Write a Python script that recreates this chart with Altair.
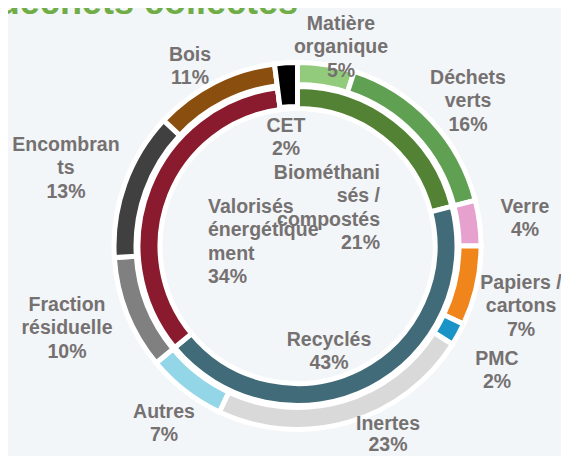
import altair as alt
import pandas as pd

# ---------------- data ----------------
outer_cat = ["Matière organique", "Déchets verts", "Verre", "Papiers / cartons", "PMC",
             "Inertes", "Autres", "Fraction résiduelle", "Encombrants", "Bois", "CET"]
outer_val = [5, 16, 4, 7, 2, 23, 7, 10, 13, 11, 2]
outer_col = ["#92CB7C", "#60A053", "#E6A1CF", "#F0851C", "#1A93C6",
             "#D9D9D9", "#93D6E8", "#808080", "#404040", "#8A4F0F", "#000000"]

inner_cat = ["Biométhanisés / compostés", "Recyclés", "Valorisés énergétiquement", "CET"]
inner_val = [21, 43, 34, 2]
inner_col = ["#548235", "#416B78", "#8A1A2D", "#000000"]

# label texts (as wrapped in the original)
label_lines = [
    ["Matière", "organique", "5%"],
    ["Déchets", "verts", "16%"],
    ["Verre", "4%"],
    ["Papiers /", "cartons", "7%"],
    ["PMC", "2%"],
    ["Inertes", "23%"],
    ["Autres", "7%"],
    ["Fraction", "résiduelle", "10%"],
    ["Encombran", "ts", "13%"],
    ["Bois", "11%"],
    ["CET", "2%"],
    ["Biométhani", "sés /", "compostés", "21%"],
    ["Recyclés", "43%"],
    ["Valorisés", "énergétique", "ment", "34%"],
]
title_text = "déchets collectés"

# ---------------- layout (page pixel coords) ----------------
OFF = 8
W, H = 569 - 2 * OFF, 464 - 2 * OFF
CX, CY = 297.5 - OFF, 246 - OFF
SW = 5
OUT_R, OUT_R2 = 181 + SW / 2, 164 - SW / 2
IN_R, IN_R2 = 157 + SW / 2, 140 - SW / 2

label_pos = [  # x, first baseline, align, line spacing
    (341, 30, "center", 23.3), (468, 84, "center", 23.3), (525, 213, "center", 23.3),
    (521, 289, "center", 23.3), (497, 365, "center", 23.3), (388, 430, "center", 21),
    (164, 418, "center", 23.3), (67, 311, "center", 23.3), (66, 151, "center", 23.3),
    (190, 61, "center", 23.3), (286, 132, "center", 23.3), (380, 179, "right", 23.3),
    (329, 346, "center", 23.3), (208, 213, "left", 23.3),
]

BG = "#F2F6F9"
TXT = "#767171"

df_out = pd.DataFrame({"cat": outer_cat, "val": outer_val, "col": outer_col,
                       "idx": list(range(len(outer_cat)))})
df_in = pd.DataFrame({"cat": inner_cat, "val": inner_val, "col": inner_col,
                      "idx": list(range(len(inner_cat)))})

rows = []
for lines, (x, y0, al, lh) in zip(label_lines, label_pos):
    for i, t in enumerate(lines):
        rows.append({"t": t, "x": x - OFF, "y": y0 - OFF + i * lh, "al": al})
df_lab = pd.DataFrame(rows)

base_theta = alt.Theta("val:Q", stack=True, scale=alt.Scale(domain=[0, 100]))

ring_bg = alt.Chart(pd.DataFrame({"v": [1]})).mark_arc(
    radius=OUT_R + 1, radius2=IN_R2 + 1, color="white"
).encode(theta=alt.value(0), theta2=alt.value(6.2832), x=alt.value(CX), y=alt.value(CY))

inner = alt.Chart(df_in).mark_arc(
    radius=IN_R, radius2=IN_R2, stroke="white", strokeWidth=SW
).encode(
    theta=base_theta,
    order=alt.Order("idx:Q"),
    color=alt.Color("col:N", scale=None),
    x=alt.value(CX), y=alt.value(CY),
)

outer = alt.Chart(df_out).transform_calculate(
    r_in=f"datum.cat == 'CET' ? {IN_R2 + 2} : {OUT_R2}",
    r_out=f"{OUT_R}",
).mark_arc(stroke="white", strokeWidth=SW).encode(
    theta=base_theta,
    order=alt.Order("idx:Q"),
    color=alt.Color("col:N", scale=None),
    radius=alt.Radius("r_out:Q", scale=None),
    radius2=alt.Radius2("r_in:Q"),
    x=alt.value(CX), y=alt.value(CY),
)

def text_layer(align):
    return alt.Chart(df_lab).transform_filter(f"datum.al == '{align}'").mark_text(
        align=align, baseline="alphabetic", fontSize=19.5, fontWeight="bold",
        font="Liberation Sans", color=TXT
    ).encode(
        x=alt.X("x:Q", scale=None), y=alt.Y("y:Q", scale=None), text="t:N"
    )

title = alt.Chart(pd.DataFrame({"t": [title_text]})).mark_text(
    align="right", baseline="alphabetic", fontSize=36, fontWeight="bold",
    font="Liberation Sans", color="#70AD47"
).encode(x=alt.value(298 - OFF), y=alt.value(11 - OFF + 3), text="t:N")

chart = alt.layer(
    ring_bg, inner, outer, text_layer("center"), text_layer("left"), text_layer("right"), title
).properties(
    width=W, height=H, padding=0, autosize=alt.AutoSizeParams(type="none"), background=BG
).configure_view(strokeWidth=0)

chart.save("out.html", embed_options={"renderer": "svg", "actions": False})
